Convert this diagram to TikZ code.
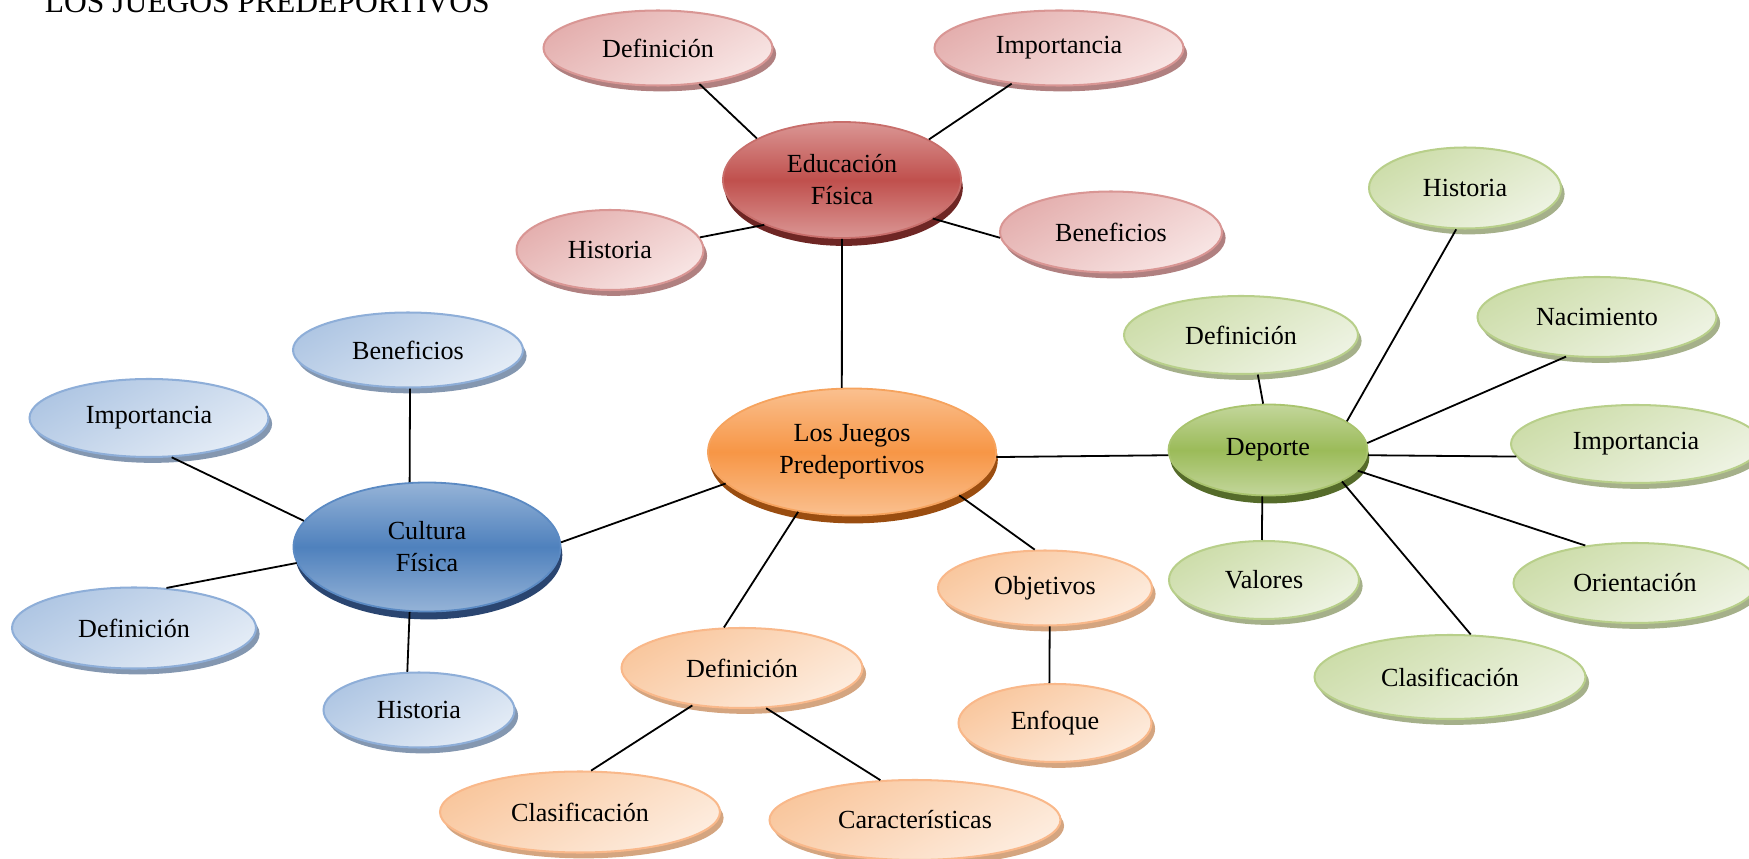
\documentclass[tikz,border=0pt]{standalone}
\usepackage{fontspec}
\setmainfont{Liberation Serif}
\usepackage{tikz}
\usetikzlibrary{shapes.geometric, shadows}
\newcommand{\px}{0.444pt}
\newcommand{\nodefont}{\fontsize{11.6}{14.2}\selectfont}
% hub colours
\definecolor{redmid}{RGB}{192,80,77}
\definecolor{redlite}{RGB}{218,150,148}
\definecolor{redrim}{RGB}{200,110,107}
\definecolor{redshd}{RGB}{110,38,36}
\definecolor{orgmid}{RGB}{247,150,70}
\definecolor{orglite}{RGB}{250,192,143}
\definecolor{orgrim}{RGB}{246,163,94}
\definecolor{orgshd}{RGB}{154,77,16}
\definecolor{blumid}{RGB}{79,129,189}
\definecolor{blulite}{RGB}{149,179,215}
\definecolor{blurim}{RGB}{91,138,195}
\definecolor{blushd}{RGB}{42,69,112}
\definecolor{grnmid}{RGB}{155,187,89}
\definecolor{grnlite}{RGB}{195,214,155}
\definecolor{grnrim}{RGB}{169,196,110}
\definecolor{grnshd}{RGB}{85,107,42}
% leaf colours
\definecolor{redleafA}{RGB}{228,175,174}
\definecolor{redleafB}{RGB}{248,229,228}
\definecolor{redleafrim}{RGB}{217,150,148}
\definecolor{redleafshd}{RGB}{176,128,128}
\definecolor{orgleafA}{RGB}{249,199,158}
\definecolor{orgleafB}{RGB}{253,236,222}
\definecolor{orgleafrim}{RGB}{249,184,138}
\definecolor{orgleafshd}{RGB}{212,165,128}
\definecolor{bluleafA}{RGB}{175,198,227}
\definecolor{bluleafB}{RGB}{228,236,246}
\definecolor{bluleafrim}{RGB}{142,174,216}
\definecolor{bluleafshd}{RGB}{132,151,176}
\definecolor{grnleafA}{RGB}{205,221,170}
\definecolor{grnleafB}{RGB}{238,243,227}
\definecolor{grnleafrim}{RGB}{184,207,138}
\definecolor{grnleafshd}{RGB}{165,176,138}
\tikzset{
  hub/.style={ellipse, inner sep=0pt, align=center, font=\nodefont, line width=0.8pt},
  leaf/.style={ellipse, inner sep=0pt, align=center, font=\nodefont, line width=0.9pt},
  redhub/.style={hub, draw=redrim, top color=redlite, bottom color=redlite, middle color=redmid, drop shadow={shadow xshift=0.8pt, shadow yshift=-3.5pt, fill=redshd, opacity=1}},
  orghub/.style={hub, draw=orgrim, top color=orglite, bottom color=orglite, middle color=orgmid, drop shadow={shadow xshift=0.8pt, shadow yshift=-3.5pt, fill=orgshd, opacity=1}},
  bluhub/.style={hub, draw=blurim, top color=blulite, bottom color=blulite, middle color=blumid, drop shadow={shadow xshift=0.8pt, shadow yshift=-3.5pt, fill=blushd, opacity=1}},
  grnhub/.style={hub, draw=grnrim, top color=grnlite, bottom color=grnlite, middle color=grnmid, drop shadow={shadow xshift=0.8pt, shadow yshift=-3.5pt, fill=grnshd, opacity=1}},
  redleaf/.style={leaf, draw=redleafrim, top color=redleafA, bottom color=redleafB, shading angle=30, drop shadow={shadow xshift=1.6pt, shadow yshift=-2.6pt, fill=redleafshd, opacity=1}},
  orgleaf/.style={leaf, draw=orgleafrim, top color=orgleafA, bottom color=orgleafB, shading angle=30, drop shadow={shadow xshift=1.6pt, shadow yshift=-2.6pt, fill=orgleafshd, opacity=1}},
  bluleaf/.style={leaf, draw=bluleafrim, top color=bluleafA, bottom color=bluleafB, shading angle=30, drop shadow={shadow xshift=1.6pt, shadow yshift=-2.6pt, fill=bluleafshd, opacity=1}},
  grnleaf/.style={leaf, draw=grnleafrim, top color=grnleafA, bottom color=grnleafB, shading angle=30, drop shadow={shadow xshift=1.6pt, shadow yshift=-2.6pt, fill=grnleafshd, opacity=1}},
  size/.style 2 args={minimum width=#1*\px, minimum height=#2*\px},
  link/.style={line width=0.8pt, black}
}

\begin{document}
\begin{tikzpicture}[x=0.444pt, y=-0.444pt]
  \useasboundingbox (0,0) rectangle (1749,859);
  \node[anchor=base west, font=\fontsize{14}{16}\selectfont] (title) at (37,13) {LOS JUEGOS PREDEPORTIVOS};

  % Hubs
  \node[redhub, size={238}{116}] (ef) at (842,180) {Educación\\Física};
  \node[orghub, size={288}{127}] (jp) at (852,452) {Los Juegos\\Predeportivos};
  \node[bluhub, size={267}{129}] (cf) at (427,547) {Cultura\\Física};
  \node[grnhub, size={199}{91}] (dp) at (1268,450) {Deporte};

  % Educacion Fisica
  \node[redleaf, size={229}{75}] (efdef) at (658,48) {Definición};
  \node[redleaf, size={249}{75}] (efimp) at (1059,48) {Importancia};
  \node[redleaf, size={187}{80}] (efhis) at (610,250) {Historia};
  \node[redleaf, size={222}{81}] (efben) at (1111,232) {Beneficios};

  % Los Juegos Predeportivos
  \node[orgleaf, size={241}{80}] (jpdef) at (742,668) {Definición};
  \node[orgleaf, size={214}{75}] (jpobj) at (1045,588) {Objetivos};
  \node[orgleaf, size={193}{78}] (jpenf) at (1055,723) {Enfoque};
  \node[orgleaf, size={280}{81}] (jpcla) at (580,812) {Clasificación};
  \node[orgleaf, size={291}{80}] (jpcar) at (915,820) {Características};

  % Cultura Fisica
  \node[bluleaf, size={230}{75}] (cfben) at (408,350) {Beneficios};
  \node[bluleaf, size={239}{78}] (cfimp) at (149,418) {Importancia};
  \node[bluleaf, size={244}{81}] (cfdef) at (134,628) {Definición};
  \node[bluleaf, size={191}{75}] (cfhis) at (419,710) {Historia};

  % Deporte
  \node[grnleaf, size={192}{81}] (dphis) at (1465,188) {Historia};
  \node[grnleaf, size={234}{78}] (dpdef) at (1241,335) {Definición};
  \node[grnleaf, size={239}{80}] (dpnac) at (1597,317) {Nacimiento};
  \node[grnleaf, size={250}{78}] (dpimp) at (1636,444) {Importancia};
  \node[grnleaf, size={243}{80}] (dpori) at (1635,583) {Orientación};
  \node[grnleaf, size={190}{78}] (dpval) at (1264,580) {Valores};
  \node[grnleaf, size={271}{84}] (dpcla) at (1450,677) {Clasificación};

  % Connectors
  \draw[link] (efdef.-41) -- (ef.154);
  \draw[link] (efimp.-143) -- (ef.25);
  \draw[link] (efhis.8) -- (ef.-150);
  \draw[link] (efben.-177) -- (ef.-23);
  \draw[link] (ef.-90) -- (jp.99);
  \draw[link] (jp.-166) -- (cf.2);
  \draw[link] (jp.-2) -- (dp.183);
  \draw[link] (jp.-132) -- (jpdef.114);
  \draw[link] (jp.-22) -- (jpobj.105);
  \draw[link] (jpdef.-143) -- (jpcla.75);
  \draw[link] (jpdef.-59) -- (jpcar.131);
  \draw[link] (jpobj.-83) -- (jpenf.98);
  \draw[link] (cfben.-87) -- (cf.105);
  \draw[link] (cfimp.-60) -- (cf.168);
  \draw[link] (cfdef.51) -- (cf.187);
  \draw[link] (cf.-105) -- (cfhis.107);
  \draw[link] (dphis.-102) -- (dp.20);
  \draw[link] (dpdef.-67) -- (dp.96);
  \draw[link] (dpnac.-128) -- (dp.4);
  \draw[link] (dpimp.-174) -- (dp.-3);
  \draw[link] (dpori.143) -- (dp.-13);
  \draw[link] (dpcla.64) -- (dp.-23);
  \draw[link] (dp.-97) -- (dpval.93);
\end{tikzpicture}
\end{document}
